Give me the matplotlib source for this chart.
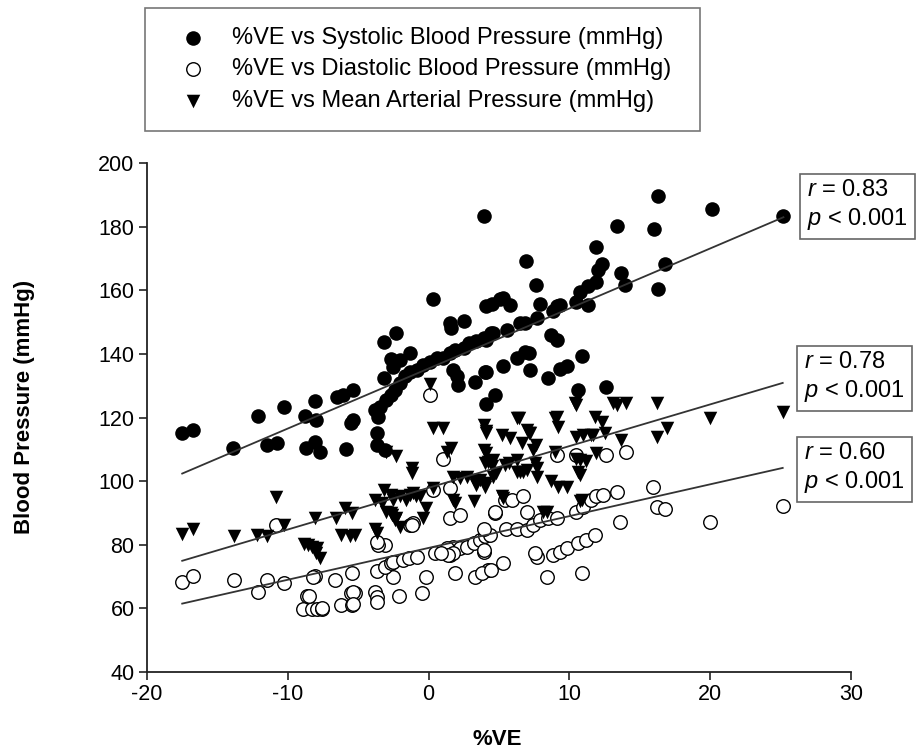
import matplotlib
matplotlib.use('Agg')
import matplotlib.pyplot as plt
import numpy as np

plt.rcParams['font.family'] = ['Liberation Sans', 'DejaVu Sans']
plt.rcParams['mathtext.fontset'] = 'custom'
plt.rcParams['mathtext.rm'] = 'Liberation Sans'
plt.rcParams['mathtext.it'] = 'Liberation Sans:italic'
plt.rcParams['axes.unicode_minus'] = False

# ---------------- data ----------------
sys_x = [-17.5, -16.7, -13.9, -12.1, -10.3, -11.5, -10.8, -8.8, -8.0, -8.1, -8.7, -8.1, -7.7,
         -6.5, -6.1, -5.4, -5.4, -5.5, -5.9, -3.8, -3.6, -3.7, -3.7, -3.1, -3.2, -2.3, -1.3,
         -2.7, -2.0, -2.5, -3.15,
         -3.45, -3.0, -2.7, -2.4, -2.0, -1.7, -1.3, -0.85, -0.4, 0.1, 0.6, 1.0, 1.5, 1.9, 2.5,
         2.9, 3.4, 3.9, 4.4,
         0.3, 1.5, 1.6, 2.5, 4.1, 4.5, 5.1, 3.9,
         1.75, 2.0, 2.1, 3.3, 4.0, 4.1, 4.7,
         16.3, 20.1, 25.2, 13.4, 16.0, 11.9, 12.3, 12.05, 16.8, 13.7, 13.95, 16.3, 6.9, 7.6,
         10.75, 11.3, 11.9, 10.5, 11.3, 7.9, 9.1, 9.3, 8.85, 7.7, 6.5, 6.85, 5.6, 5.3, 5.8,
         4.6, 4.1, 8.7, 9.1, 6.85, 7.1, 6.3, 7.2, 5.3, 4.1, 8.45, 9.3, 9.8, 10.9, 10.6, 12.6]
sys_y = [115.2, 116.0, 110.4, 120.4, 123.4, 111.4, 112.1, 120.5, 119.2, 125.2, 110.3, 112.4, 109.3,
         126.4, 127.1, 128.5, 119.2, 118.2, 110.0, 122.4, 120.3, 115.0, 111.4, 109.8, 143.6, 146.5, 140.4,
         138.3, 138.1, 136.0, 132.4,
         123.4, 125.5, 127.1, 128.7, 130.8, 132.9, 134.4, 135.0, 136.5, 137.6, 138.6, 138.6, 140.2, 141.3, 141.8,
         143.4, 143.9, 145.0, 146.5,
         157.4, 149.6, 148.0, 150.4, 154.9, 155.7, 157.2, 183.4,
         135.0, 132.9, 130.3, 131.3, 134.4, 124.2, 127.1,
         189.5, 185.5, 183.4, 180.2, 179.2, 173.5, 168.3, 166.4, 168.3, 165.4, 161.5, 160.3, 169.3, 161.5,
         159.6, 161.2, 162.7, 156.4, 155.4, 155.6, 154.9, 155.4, 153.4, 151.4, 149.6, 149.6, 147.5, 157.5, 155.4,
         146.5, 144.4, 146.0, 144.4, 140.7, 140.2, 138.6, 135.0, 136.2, 134.4, 132.4, 135.2, 136.2, 139.4, 128.5, 129.5]

dia_x = [-17.5, -16.7, -13.8, -12.1, -11.45, -10.3, -10.85, -8.1, -8.65, -8.9, -8.3, -7.95, -7.6,
         -6.65, -5.46, -6.2, -5.46, -5.5, -5.2, -3.7, -3.8, -3.7, -3.7, -8.2, -8.5, -2.5, -2.1,
         -0.45, -0.15, -3.1, -2.7, -2.5, -1.8, -1.4, -0.85, 0.45, 1.5, 1.9, 3.3, 4.2, -3.1, -3.6,
         -3.7, -1.3, -1.1, 0.3, 1.5, 1.0, 1.5, 2.2, 1.76, 2.2, 2.7, 3.2, 3.65, 4.0, 4.36, 3.9, 3.9,
         4.7, 0.1,
         4.7, 5.4, 5.9, 6.7, 7.0, 1.3, 1.76, 1.4, 0.9, 3.9, 5.5, 6.25, 7.0, 7.45, 7.9, 8.5, 9.1,
         7.7, 7.55, 8.85, 9.3, 9.8, 10.6, 11.2, 11.8, 8.4, 10.9, 5.3, 10.5, 11.0, 11.5, 11.9, 12.4,
         13.35, 13.6, 12.6, 14.0, 9.1, 10.5, 15.95, 16.2, 16.8, 20.0, 25.15, -1.2, -5.35, -5.35,
         -7.6, 3.8, 4.4]
dia_y = [68.4, 70.2, 68.9, 65.3, 68.9, 68.1, 86.2, 70.2, 63.9, 59.7, 59.7, 59.7, 59.7,
         68.9, 71.0, 61.1, 61.1, 64.7, 64.9, 71.9, 65.3, 63.7, 62.1, 70.0, 63.9, 70.0, 63.9,
         64.7, 70.0, 73.1, 74.2, 74.7, 75.2, 75.7, 76.2, 77.3, 76.8, 71.0, 70.0, 72.1, 80.0, 80.0,
         81.0, 86.2, 86.7, 97.2, 97.8, 107.1, 88.3, 89.4, 79.4, 78.9, 79.4, 80.4, 81.5, 82.6, 83.1, 85.1, 77.8,
         89.9, 127.1,
         90.4, 94.1, 94.1, 95.2, 90.4, 78.9, 77.3, 76.8, 77.3, 78.4, 85.1, 85.1, 84.7, 86.2, 87.8, 88.3, 88.3,
         76.3, 77.3, 76.8, 77.8, 78.9, 80.4, 81.5, 83.1, 70.0, 71.0, 74.2, 90.4, 92.0, 94.1, 95.2, 95.7,
         96.7, 87.3, 108.2, 109.3, 108.2, 108.2, 98.3, 92.0, 91.2, 87.0, 92.2, 86.2, 65.3, 61.5,
         60.0, 71.0, 72.1]

map_x = [-17.5, -16.7, -13.8, -12.2, -11.45, -10.85, -10.3, -8.1, -8.85, -8.3, -7.95, -7.7, -8.6, -8.0,
         -6.6, -5.94, -5.46, -6.2, -5.6, -5.2, -3.8, -3.3, -3.2, -2.7, -2.5, -2.0, -3.0, -2.6, -2.3,
         -2.0, -3.8, -3.7, -1.6, -0.9, -1.3, -0.4, -0.15, -1.2, -1.2, 0.3, 1.0, 3.9, 4.1, 1.6, 1.3,
         3.9, 4.2, 4.5, 1.76, 2.2, 2.7, 3.2, 3.65, 4.1, 4.0, 3.4, 1.76, 1.9, 3.2, -3.0, -2.3, 0.33,
         -1.1, -0.6, -2.4, -2.7, 0.1,
         4.6, 4.8, 4.0, 4.1, 4.6, 5.7, 6.3, 6.5, 7.0, 7.7, 8.7, 9.2, 9.8, 8.15, 10.75, 10.75, 11.2,
         11.9, 10.5, 11.0, 11.7, 9.0, 7.6, 7.4, 4.1, 5.2, 5.8, 6.6, 7.1, 5.2, 5.3, 8.4, 10.9,
         10.5, 13.4, 14.0, 16.2, 20.0, 25.15, 6.4, 7.0, 7.2, 9.1, 9.2, 11.8, 12.3, 11.5, 12.5, 13.7,
         16.2, 16.9, 10.6, 7.55, 7.7, 6.25, 6.7, 5.4, 10.75, 10.5, 6.25, 9.0, 13.1, 10.4]
map_y = [83.4, 85.1, 82.6, 83.1, 82.6, 94.9, 86.2, 88.3, 80.3, 79.4, 78.9, 75.7, 80.0, 77.5,
         88.3, 91.5, 89.9, 83.1, 82.8, 83.1, 94.1, 93.0, 97.2, 95.7, 94.1, 95.2, 90.4, 89.4, 88.3,
         85.7, 85.1, 83.6, 94.1, 95.2, 95.7, 88.3, 91.5, 104.0, 102.5, 116.6, 116.6, 117.7, 115.6, 110.3, 109.3,
         109.8, 106.1, 104.6, 101.4, 100.9, 101.4, 100.4, 100.4, 99.4, 98.3, 98.8, 94.1, 93.0, 93.6, 109.0, 108.0, 97.7,
         96.2, 95.2, 87.8, 89.9, 130.5,
         101.4, 102.5, 105.6, 108.8, 106.7, 105.6, 106.7, 103.0, 103.5, 101.4, 99.9, 98.3, 98.3, 90.4, 93.6, 102.0, 106.2,
         108.8, 114.0, 114.5, 114.5, 109.3, 111.4, 109.8, 115.0, 114.5, 113.5, 111.9, 115.0, 95.2, 94.8, 90.4, 94.1,
         124.0, 124.0, 124.5, 124.5, 119.8, 121.8, 119.8, 116.1, 115.0, 120.2, 117.1, 120.2, 118.7, 114.5, 115.0, 113.0,
         114.0, 116.6, 103.0, 105.6, 104.0, 103.0, 103.0, 105.1, 106.7, 107.1, 119.8, 119.8, 124.5, 124.5]

# regression lines as drawn (slope, intercept) and their statistics
fit_sys = (1.887, 135.4)
fit_map = (1.311, 97.9)
fit_dia = (1.000, 79.0)
stats_sys = ("0.83", "0.001")
stats_map = ("0.78", "0.001")
stats_dia = ("0.60", "0.001")

legend_labels = ["%VE vs Systolic Blood Pressure (mmHg)",
                 "%VE vs Diastolic Blood Pressure (mmHg)",
                 "%VE vs Mean Arterial Pressure (mmHg)"]
x_ticks = [-20, -10, 0, 10, 20, 30]
y_ticks = [40, 60, 80, 100, 120, 140, 160, 180, 200]

# ---------------- figure ----------------
W, H = 916, 754
fig = plt.figure(figsize=(W / 100, H / 100), dpi=100)
ax = fig.add_axes([147 / W, 1 - 672 / H, 704 / W, 509 / H])

h_dia = ax.scatter(dia_x, dia_y, s=95, facecolors='white', edgecolors='black',
                   linewidths=1.0, zorder=3, clip_on=False)
h_map = ax.scatter(map_x, map_y, s=95, marker='v', color='black', linewidths=0,
                   zorder=4, clip_on=False)
h_sys = ax.scatter(sys_x, sys_y, s=110, color='black', linewidths=0, zorder=5, clip_on=False)

for xs, fit in ((sys_x, fit_sys), (map_x, fit_map), (dia_x, fit_dia)):
    xl = np.array([min(xs), max(xs)])
    ax.plot(xl, fit[0] * xl + fit[1], color='#333333', lw=1.3, zorder=6)

ax.set_xlim(-20, 30)
ax.set_ylim(40, 200)
ax.set_xticks(x_ticks)
ax.set_yticks(y_ticks)
for s in ('top', 'right'):
    ax.spines[s].set_visible(False)
for s in ('left', 'bottom'):
    ax.spines[s].set_linewidth(1.3)
    ax.spines[s].set_color('#222222')
ax.tick_params(direction='out', length=6, width=1.2, labelsize=15.5, color='#222222', pad=3)

ax.set_xlabel('%VE', fontsize=16, fontweight='bold')
ax.xaxis.set_label_coords(0.497, -0.112)
ax.xaxis.label.set_va('top')
ax.set_ylabel('Blood Pressure (mmHg)', fontsize=16, fontweight='bold', va='center')
ax.yaxis.set_label_coords(-0.174, 0.52)

# legend box
leg = fig.legend([h_sys, h_dia, h_map], legend_labels, loc='upper left',
                 bbox_to_anchor=(145 / W, 1 - 126 / H, 555 / W, 118 / H), mode='expand',
                 borderaxespad=0,
                 fontsize=17, frameon=True, fancybox=False, edgecolor='#555555',
                 borderpad=0.8, labelspacing=0.4, handlelength=2.5, handletextpad=0.4,
                 scatterpoints=1, markerscale=1.0)
leg.get_frame().set_linewidth(1.2)

# statistics boxes
boxes = [(stats_sys, 807, 179), (stats_map, 804, 351), (stats_dia, 804, 442)]
for (r, p), px, py in boxes:
    fig.text(px / W, 1 - py / H, "$r$ = %s\n$p$ < %s" % (r, p), fontsize=17,
             va='top', ha='left', linespacing=1.25,
             bbox=dict(boxstyle='square,pad=0.3', fc='white', ec='#666666', lw=1.2))

fig.savefig('out.png', dpi=100)
